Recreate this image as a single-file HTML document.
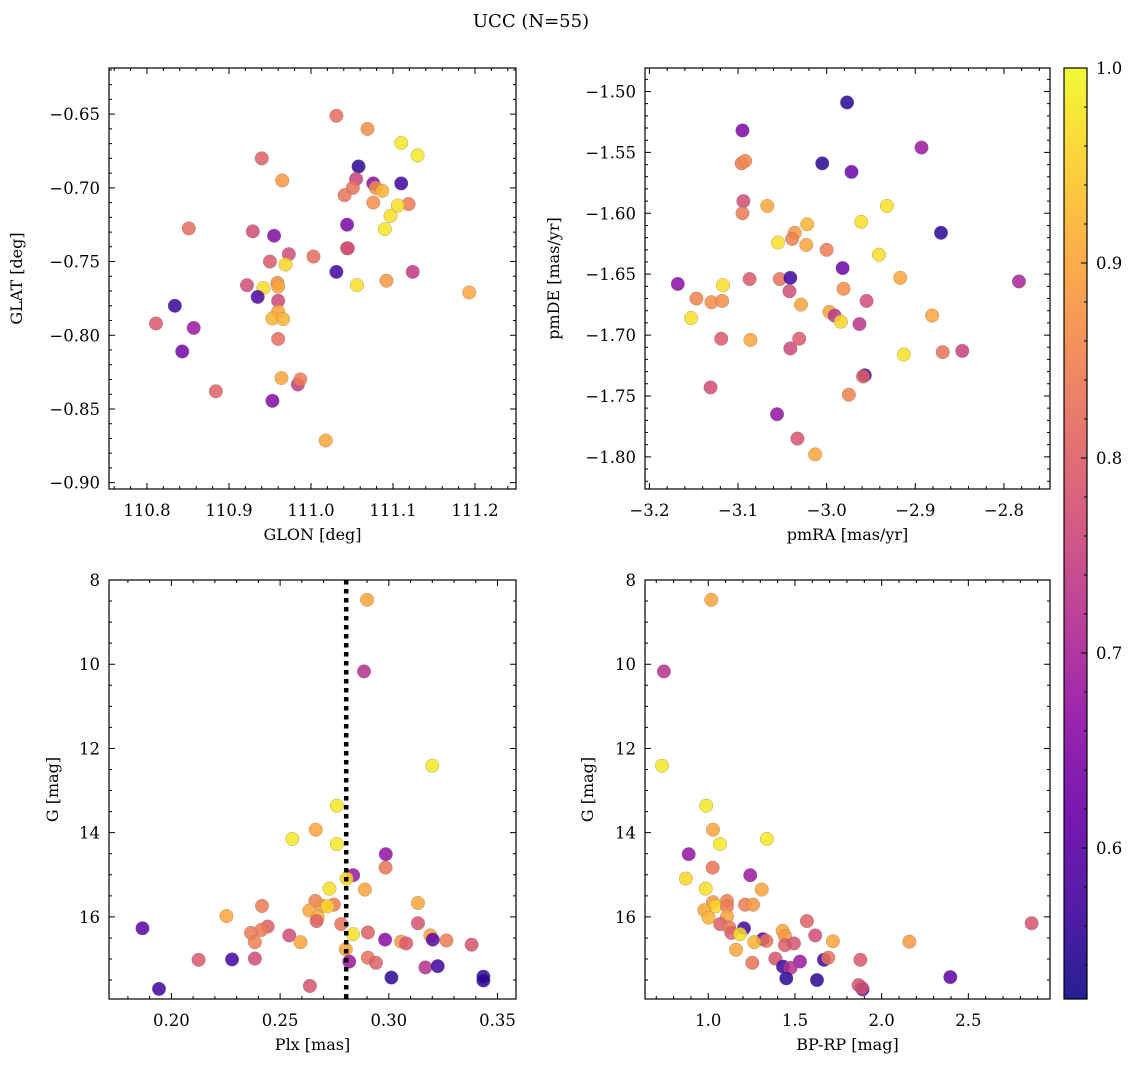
<!DOCTYPE html>
<html><head><meta charset="utf-8">
<style>
html,body{margin:0;padding:0;background:#fff;}
svg{display:block;font-family:"DejaVu Serif","Liberation Serif",serif;}
</style></head>
<body>
<svg id="fig" width="1136" height="1067" viewBox="0 0 1136 1067" xmlns="http://www.w3.org/2000/svg">
<defs>
<linearGradient id="plasma" x1="0" y1="1" x2="0" y2="0">
<stop offset="0" stop-color="#0d0887"/><stop offset="0.1" stop-color="#41049d"/><stop offset="0.2" stop-color="#6a00a8"/><stop offset="0.3" stop-color="#8f0da4"/><stop offset="0.4" stop-color="#b12a90"/><stop offset="0.5" stop-color="#cc4778"/><stop offset="0.6" stop-color="#e16462"/><stop offset="0.7" stop-color="#f2844b"/><stop offset="0.8" stop-color="#fca636"/><stop offset="0.9" stop-color="#fcce25"/><stop offset="1" stop-color="#f0f921"/>
</linearGradient>
</defs>
<text x="531" y="27" text-anchor="middle" font-size="18">UCC (N=55)</text>
</svg>
<script>
// ---- Panel 1: GLON vs GLAT ----
const glonX = [111.031,111.069,111.110,111.130,110.940,110.965,111.058,111.055,111.076,111.079,111.087,111.051,111.041,111.110,111.076,111.119,111.106,111.097,111.090,111.044,110.851,110.929,110.955,111.044,111.045,110.973,111.003,110.950,110.969,111.031,111.124,111.056,111.092,111.193,110.922,110.959,110.960,110.942,110.935,110.834,110.960,110.960,110.953,110.966,110.811,110.857,110.960,110.843,110.964,110.984,110.987,110.884,110.953,111.018];
const glatY = [-0.6511,-0.660,-0.6695,-0.678,-0.680,-0.695,-0.6855,-0.694,-0.697,-0.700,-0.702,-0.700,-0.705,-0.697,-0.710,-0.711,-0.712,-0.719,-0.728,-0.725,-0.7275,-0.7295,-0.7325,-0.741,-0.741,-0.745,-0.7466,-0.750,-0.752,-0.757,-0.757,-0.766,-0.763,-0.771,-0.766,-0.7645,-0.767,-0.768,-0.774,-0.780,-0.7766,-0.784,-0.7886,-0.789,-0.792,-0.795,-0.8025,-0.811,-0.829,-0.8334,-0.830,-0.838,-0.8445,-0.8714];
const glonP = [0.82,0.87,0.98,0.98,0.80,0.88,0.55,0.75,0.66,0.87,0.92,0.83,0.83,0.57,0.87,0.84,0.97,0.97,0.98,0.64,0.82,0.77,0.65,0.80,0.77,0.77,0.82,0.79,0.96,0.57,0.74,0.97,0.88,0.90,0.77,0.87,0.90,0.97,0.58,0.56,0.76,0.90,0.92,0.92,0.79,0.68,0.82,0.63,0.90,0.74,0.84,0.80,0.65,0.90];
const glonTicks = [110.8,110.9,111.0,111.1,111.2];
const glatTicks = [-0.90,-0.85,-0.80,-0.75,-0.70,-0.65];

// ---- Panel 2: pmRA vs pmDE ----
const pmraX = [-2.977,-3.095,-2.893,-3.096,-3.092,-3.005,-2.972,-3.094,-3.095,-3.067,-2.932,-2.961,-3.022,-3.036,-3.039,-3.055,-3.023,-2.871,-3.000,-2.941,-2.982,-3.168,-3.117,-3.087,-3.053,-3.041,-3.042,-2.917,-2.783,-2.981,-3.147,-3.130,-3.118,-2.955,-3.029,-3.153,-2.997,-2.991,-2.984,-2.963,-2.881,-3.119,-3.086,-3.031,-3.041,-2.913,-2.869,-2.847,-2.957,-2.959,-3.131,-2.975,-3.056,-3.033,-3.013];
const pmdeY = [-1.509,-1.532,-1.546,-1.559,-1.557,-1.559,-1.566,-1.590,-1.600,-1.594,-1.594,-1.607,-1.609,-1.616,-1.621,-1.624,-1.626,-1.616,-1.630,-1.634,-1.645,-1.658,-1.659,-1.654,-1.654,-1.653,-1.664,-1.653,-1.656,-1.662,-1.670,-1.673,-1.672,-1.672,-1.675,-1.686,-1.681,-1.684,-1.689,-1.691,-1.684,-1.703,-1.704,-1.703,-1.711,-1.716,-1.714,-1.713,-1.733,-1.734,-1.743,-1.749,-1.765,-1.785,-1.798];
const pmP = [0.55,0.64,0.68,0.84,0.86,0.55,0.62,0.77,0.84,0.90,0.97,0.97,0.92,0.88,0.85,0.97,0.90,0.55,0.84,0.97,0.62,0.66,0.97,0.79,0.83,0.57,0.77,0.90,0.70,0.87,0.85,0.87,0.87,0.77,0.90,0.97,0.90,0.73,0.96,0.73,0.90,0.79,0.90,0.79,0.76,0.97,0.83,0.75,0.56,0.80,0.77,0.85,0.67,0.78,0.90];
const pmraTicks = [-3.2,-3.1,-3.0,-2.9,-2.8];
const pmdeTicks = [-1.80,-1.75,-1.70,-1.65,-1.60,-1.55,-1.50];

// ---- Panel 3: Plx vs G ----
const plxX = [0.290,0.2886,0.320,0.2761,0.2664,0.2556,0.2761,0.2986,0.2985,0.2836,0.2806,0.289,0.2727,0.3134,0.2417,0.2662,0.2694,0.2747,0.2718,0.2634,0.2673,0.2668,0.2253,0.3134,0.2781,0.2443,0.2414,0.2366,0.2835,0.1867,0.2542,0.2384,0.2594,0.2904,0.3191,0.3202,0.2983,0.3057,0.308,0.3265,0.3381,0.2802,0.2125,0.2279,0.2384,0.2818,0.2904,0.2941,0.3168,0.3225,0.3012,0.3435,0.3435,0.2637,0.1943];
const plxG = [8.47,10.17,12.41,13.36,13.93,14.15,14.27,14.51,14.83,15.01,15.09,15.35,15.33,15.67,15.74,15.62,15.74,15.71,15.75,15.85,16.01,16.10,15.98,16.15,16.17,16.23,16.31,16.38,16.41,16.27,16.44,16.60,16.60,16.37,16.44,16.54,16.54,16.59,16.63,16.56,16.66,16.77,17.02,17.01,16.99,17.06,16.97,17.09,17.20,17.17,17.44,17.42,17.51,17.64,17.71];
const plxP = [0.90,0.72,0.98,0.98,0.90,0.98,0.98,0.67,0.83,0.68,0.96,0.90,0.97,0.90,0.84,0.85,0.88,0.84,0.96,0.90,0.92,0.80,0.90,0.78,0.83,0.80,0.84,0.84,0.97,0.60,0.77,0.85,0.90,0.80,0.90,0.60,0.66,0.88,0.79,0.84,0.78,0.90,0.79,0.57,0.77,0.68,0.83,0.80,0.72,0.57,0.55,0.55,0.55,0.78,0.57];
const plxRef = [0.2804];
const plxTicks = [0.20,0.25,0.30,0.35];
const gTicks = [8,10,12,14,16];

// ---- Panel 4: BP-RP vs G ----
const bprpX = [1.017,0.744,0.733,0.988,1.027,1.067,1.338,0.887,1.025,1.242,0.871,0.985,1.308,1.108,1.212,1.258,1.027,1.042,0.977,1.108,1.002,1.108,1.069,2.865,1.569,1.121,1.206,1.133,1.183,1.429,1.442,1.617,1.315,1.335,1.265,1.719,2.160,1.442,1.494,1.160,1.387,1.667,1.692,1.877,1.254,1.529,1.431,1.475,1.450,1.627,2.396,1.867,1.890,1.885];
const bprpG = [8.47,10.17,12.41,13.36,13.93,14.27,14.15,14.51,14.83,15.01,15.09,15.33,15.35,15.62,15.71,15.71,15.65,15.75,15.84,15.75,16.02,15.99,16.17,16.15,16.10,16.25,16.27,16.38,16.41,16.33,16.45,16.44,16.53,16.57,16.60,16.58,16.59,16.67,16.63,16.78,16.99,17.02,16.97,17.02,17.09,17.06,17.18,17.21,17.46,17.50,17.43,17.62,17.72,17.68];
const bprpP = [0.90,0.72,0.98,0.98,0.90,0.98,0.98,0.67,0.83,0.68,0.96,0.97,0.90,0.85,0.84,0.88,0.88,0.96,0.90,0.84,0.92,0.90,0.80,0.78,0.80,0.84,0.57,0.80,0.97,0.90,0.88,0.77,0.60,0.83,0.92,0.90,0.88,0.80,0.78,0.90,0.78,0.57,0.83,0.79,0.83,0.68,0.57,0.72,0.55,0.55,0.60,0.78,0.60,0.78];
const bprpTicks = [1.0,1.5,2.0,2.5];

// ---- Colorbar ----
const cbarTicks = [0.6,0.7,0.8,0.9,1.0];
const cbarRange = [0.5226,1.0];

const NS = "http://www.w3.org/2000/svg";
const svg = document.getElementById('fig');
const plasmaStops = ["#0d0887","#41049d","#6a00a8","#8f0da4","#b12a90","#cc4778","#e16462","#f2844b","#fca636","#fcce25","#f0f921"];
function hex(c){return [parseInt(c.slice(1,3),16),parseInt(c.slice(3,5),16),parseInt(c.slice(5,7),16)];}
function plasma(v){
  let t=(v-cbarRange[0])/(cbarRange[1]-cbarRange[0]);t=Math.max(0,Math.min(1,t));
  const f=t*10,i=Math.min(9,Math.floor(f)),r=f-i;
  const a=hex(plasmaStops[i]),b=hex(plasmaStops[i+1]);
  return "rgb("+a.map((x,k)=>Math.round(x+(b[k]-x)*r)).join(",")+")";
}
function mk(tag,attrs,parent){const e=document.createElementNS(NS,tag);for(const k in attrs)e.setAttribute(k,attrs[k]);(parent||svg).appendChild(e);return e;}
function fmt(v,d){return (v<0?"\u2212":"")+Math.abs(v).toFixed(d);}

function drawPanel(cfg,xs,ys,ps){
  const g=mk('g',{});
  
  
  const sx=v=>cfg.L+(v-cfg.xl[0])/(cfg.xl[1]-cfg.xl[0])*(cfg.R-cfg.L);
  const sy=cfg.invert?(v=>cfg.T+(v-cfg.yl[0])/(cfg.yl[1]-cfg.yl[0])*(cfg.B-cfg.T)):(v=>cfg.B-(v-cfg.yl[0])/(cfg.yl[1]-cfg.yl[0])*(cfg.B-cfg.T));
  const xmin=Math.min(...cfg.xl),xmax=Math.max(...cfg.xl),ymin=Math.min(...cfg.yl),ymax=Math.max(...cfg.yl);
  let d="";
  for(let k=Math.ceil(xmin/cfg.xm-1e-6);k*cfg.xm<=xmax+1e-9;k++){const x=sx(k*cfg.xm);d+=`M${x},${cfg.B}v-3M${x},${cfg.T}v3`;}
  for(let k=Math.ceil(ymin/cfg.ym-1e-6);k*cfg.ym<=ymax+1e-9;k++){const y=sy(k*cfg.ym);d+=`M${cfg.L},${y}h3M${cfg.R},${y}h-3`;}
  for(const v of cfg.xt){const x=sx(v);d+=`M${x},${cfg.B}v-6M${x},${cfg.T}v6`;}
  for(const v of cfg.yt){const y=sy(v);d+=`M${cfg.L},${y}h6M${cfg.R},${y}h-6`;}
  const tk=mk('path',{d:d,stroke:'#000','stroke-width':1,fill:'none'},g);
  
  
  for(let i=0;i<xs.length;i++){
    const c=mk('circle',{cx:sx(xs[i]),cy:sy(ys[i]),r:6.8,fill:plasma(ps[i]),'fill-opacity':0.85,stroke:'#777','stroke-opacity':0.6,'stroke-width':0.5},g);
    
    
  }
  if(cfg.vline){
    for(const v of cfg.vline){
      const ln=mk('line',{x1:sx(v),x2:sx(v),y1:cfg.T,y2:cfg.B,stroke:'#000','stroke-width':4.5,'stroke-dasharray':'4.5 4.5'},g);
      
      
    }
  }
  const fr=mk('rect',{x:cfg.L,y:cfg.T,width:cfg.R-cfg.L,height:cfg.B-cfg.T,fill:'none',stroke:'#000','stroke-width':1.2},g);
  
  
  for(const v of cfg.xt){
    const t=mk('text',{x:sx(v),y:cfg.B+27,'text-anchor':'middle','font-size':16.5},g);t.textContent=fmt(v,cfg.xd);
    
    
  }
  for(const v of cfg.yt){
    const t=mk('text',{x:cfg.L-9,y:sy(v)+6,'text-anchor':'end','font-size':16.5},g);t.textContent=fmt(v,cfg.yd);
    
    
  }
  const xt=mk('text',{x:(cfg.L+cfg.R)/2,y:cfg.B+51,'text-anchor':'middle','font-size':16},g);xt.textContent=cfg.xlabel;
  
  
  const yc=(cfg.T+cfg.B)/2;
  const yt=mk('text',{x:cfg.ylx,y:yc,'text-anchor':'middle','font-size':16,transform:`rotate(-90 ${cfg.ylx} ${yc})`},g);yt.textContent=cfg.ylabel;
  
  
}

drawPanel({name:'glon-glat-panel',L:109,R:516,T:68,B:489,xl:[110.7537,111.25],yl:[-0.9043,-0.6187],xt:glonTicks,yt:glatTicks,xm:0.02,ym:0.01,xd:1,yd:2,xlabel:'GLON [deg]',ylabel:'GLAT [deg]',ylx:22},glonX,glatY,glonP);
drawPanel({name:'pm-panel',L:645,R:1050,T:68,B:489,xl:[-3.205,-2.748],yl:[-1.8264,-1.4807],xt:pmraTicks,yt:pmdeTicks,xm:0.02,ym:0.01,xd:1,yd:2,xlabel:'pmRA [mas/yr]',ylabel:'pmDE [mas/yr]',ylx:559},pmraX,pmdeY,pmP);
drawPanel({name:'plx-g-panel',L:109,R:516,T:580,B:999,xl:[0.1713,0.3585],yl:[8,17.95],invert:true,xt:plxTicks,yt:gTicks,xm:0.01,ym:0.5,xd:2,yd:0,xlabel:'Plx [mas]',ylabel:'G [mag]',ylx:58,vline:plxRef},plxX,plxG,plxP);
drawPanel({name:'cmd-panel',L:645,R:1050,T:580,B:999,xl:[0.635,2.971],yl:[8,17.95],invert:true,xt:bprpTicks,yt:gTicks,xm:0.1,ym:0.5,xd:1,yd:0,xlabel:'BP-RP [mag]',ylabel:'G [mag]',ylx:593},bprpX,bprpG,bprpP);

const cb=mk('g',{});


const CT=68,CB=999,CL=1064,CR=1087;
mk('rect',{x:CL,y:CT,width:CR-CL,height:CB-CT,fill:'url(#plasma)','fill-opacity':0.9,stroke:'#000','stroke-width':1.2},cb);
const cy=v=>CB-(v-cbarRange[0])/(cbarRange[1]-cbarRange[0])*(CB-CT);
let cd="";
for(let k=27;k<=50;k++){const v=k*0.02;if(v<cbarRange[0]||v>cbarRange[1]+1e-9)continue;cd+=`M${CR},${cy(v)}h-3`;}
for(const v of cbarTicks){cd+=`M${CR},${cy(v)}h-6`;}
mk('path',{d:cd,stroke:'#000','stroke-width':1},cb);
for(const v of cbarTicks){
  const t=mk('text',{x:CR+9,y:cy(v)+6,'font-size':16.5},cb);t.textContent=v.toFixed(1);
  
  
}
</script>
</body></html>
